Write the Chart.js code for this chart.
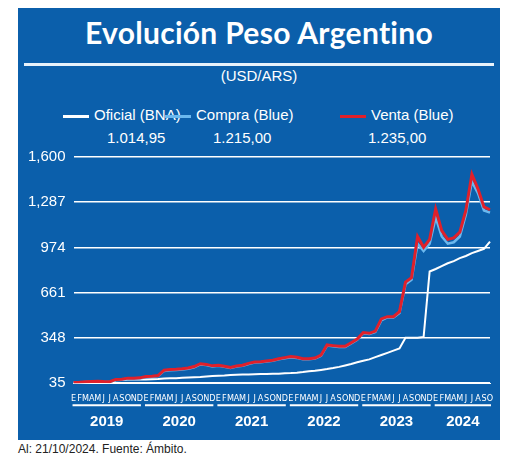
<!DOCTYPE html><html><head><meta charset="utf-8">
<script src="https://cdn.jsdelivr.net/npm/chart.js@4/dist/chart.umd.min.js"></script>
<style>
body{margin:0;width:520px;height:469px;background:#fff;font-family:"Liberation Sans",Arial,sans-serif;position:relative;overflow:hidden}
#panel{position:absolute;left:18px;top:8px;width:482px;height:432px;background:#0b5fab}
#title{position:absolute;left:0;top:6px;width:482px;text-align:center;color:#fff;font:bold 30px "Lato","Open Sans",sans-serif;letter-spacing:0.3px}
#rule{position:absolute;left:6px;top:55px;width:470px;height:3px;background:#e8f2fb}
#sub{position:absolute;left:0;top:59px;width:482px;text-align:center;color:#fff;font-size:15px}
.lg{position:absolute;top:98px;color:#fff;font-size:15px;white-space:nowrap}
.sw{display:inline-block;width:26px;height:3px;vertical-align:middle;margin-right:5px}
.val{position:absolute;top:121px;color:#fff;font-size:15px}
#wrap{position:absolute;left:20px;top:140px;width:480px;height:300px}
#foot{position:absolute;left:18px;top:442px;font-size:12px;color:#222}
</style></head><body>
<div id="panel">
<div id="title">Evolución Peso Argentino</div>
<div id="rule"></div>
<div id="sub">(USD/ARS)</div>
<div class="lg" style="left:45px"><span class="sw" style="background:#fff"></span>Oficial (BNA)</div>
<div class="lg" style="left:147px"><span class="sw" style="background:#6bb8ee"></span>Compra (Blue)</div>
<div class="lg" style="left:322px"><span class="sw" style="background:#e0202a"></span>Venta (Blue)</div>
<div class="val" style="left:89px">1.014,95</div>
<div class="val" style="left:195px">1.215,00</div>
<div class="val" style="left:350px">1.235,00</div>
</div>
<div id="wrap"><canvas id="c" width="480" height="300"></canvas></div>
<div id="foot">Al: 21/10/2024. Fuente: Ámbito.</div>
<script>
const monthLetters=["E","F","M","A","M","J","J","A","S","O","N","D"];
const years=["2019","2020","2021","2022","2023","2024"];
const yTicks=[35,348,661,974,1287,1600];
const oficial=[38,38,40,43,45,43,42,55,57,60,60,60, 60,62,64,67,69,70,72,74,76,78,81,84, 87,89,92,94,95,96,97,98,99,100,101,103, 105,108,112,117,121,127,133,140,148,158,168,180, 190,200,215,230,245,260,275,350,350,350,355,808, 825,845,865,880,900,915,935,950,965,1015];
const compra=[38,40,43,45,46,44,43,58,60,66,65,68, 78,80,85,120,125,126,130,135,145,165,160,150, 155,148,140,150,155,168,178,180,185,190,200,208, 215,210,200,200,205,225,295,290,285,285,310,335, 380,375,390,470,490,490,520,720,750,1000,950,1000, 1180,1050,1000,1010,1050,1200,1430,1350,1230,1215];
const venta=[40,42,45,47,48,46,45,61,63,70,69,72, 81,83,88,125,130,131,135,140,150,170,165,155, 159,152,144,154,159,172,182,184,189,194,204,212, 219,214,204,204,209,229,300,295,290,290,315,340, 385,380,395,480,495,495,530,735,765,1050,975,1030, 1240,1090,1030,1040,1080,1230,1480,1380,1255,1235];
const labels=oficial.map((_,i)=>monthLetters[i%12]);
const yearPlugin={id:'years',afterDraw(ch){const x=ch.scales.x,ctx=ch.ctx;ctx.save();ctx.fillStyle='#fff';ctx.strokeStyle='#fff';ctx.lineWidth=2;ctx.font='bold 15px "Liberation Sans",Arial';ctx.textAlign='center';
years.forEach((y,k)=>{const a=x.getPixelForValue(k*12)-3,b=x.getPixelForValue(Math.min(k*12+11,labels.length-1))+3;ctx.beginPath();ctx.moveTo(a+2,ch.chartArea.bottom+22);ctx.lineTo(b-2,ch.chartArea.bottom+22);ctx.stroke();ctx.fillText(y,(a+b)/2,ch.chartArea.bottom+43);});ctx.restore();}};
new Chart(document.getElementById('c'),{type:'line',data:{labels,datasets:[
{data:venta,borderColor:'#e0202a',borderWidth:3,pointRadius:0,tension:0},
{data:compra,borderColor:'#6bb8ee',borderWidth:2.5,pointRadius:0,tension:0},
{data:oficial,borderColor:'#fff',borderWidth:2,pointRadius:0,tension:0}]},
options:{responsive:false,animation:false,layout:{padding:{left:0,right:10,top:10,bottom:34}},plugins:{legend:{display:false},tooltip:{enabled:false}},
scales:{x:{grid:{display:false},border:{color:'#fff'},ticks:{color:'#fff',autoSkip:false,maxRotation:0,font:{size:9,family:'"DejaVu Sans Condensed"'},padding:2}},
y:{min:35,max:1600,afterBuildTicks:s=>{s.ticks=yTicks.map(v=>({value:v}))},grid:{color:'#fff',lineWidth:1.5,drawTicks:false},border:{display:false},ticks:{color:'#fff',font:{size:15},padding:8}}}},
plugins:[yearPlugin]});
</script>
</body></html>
